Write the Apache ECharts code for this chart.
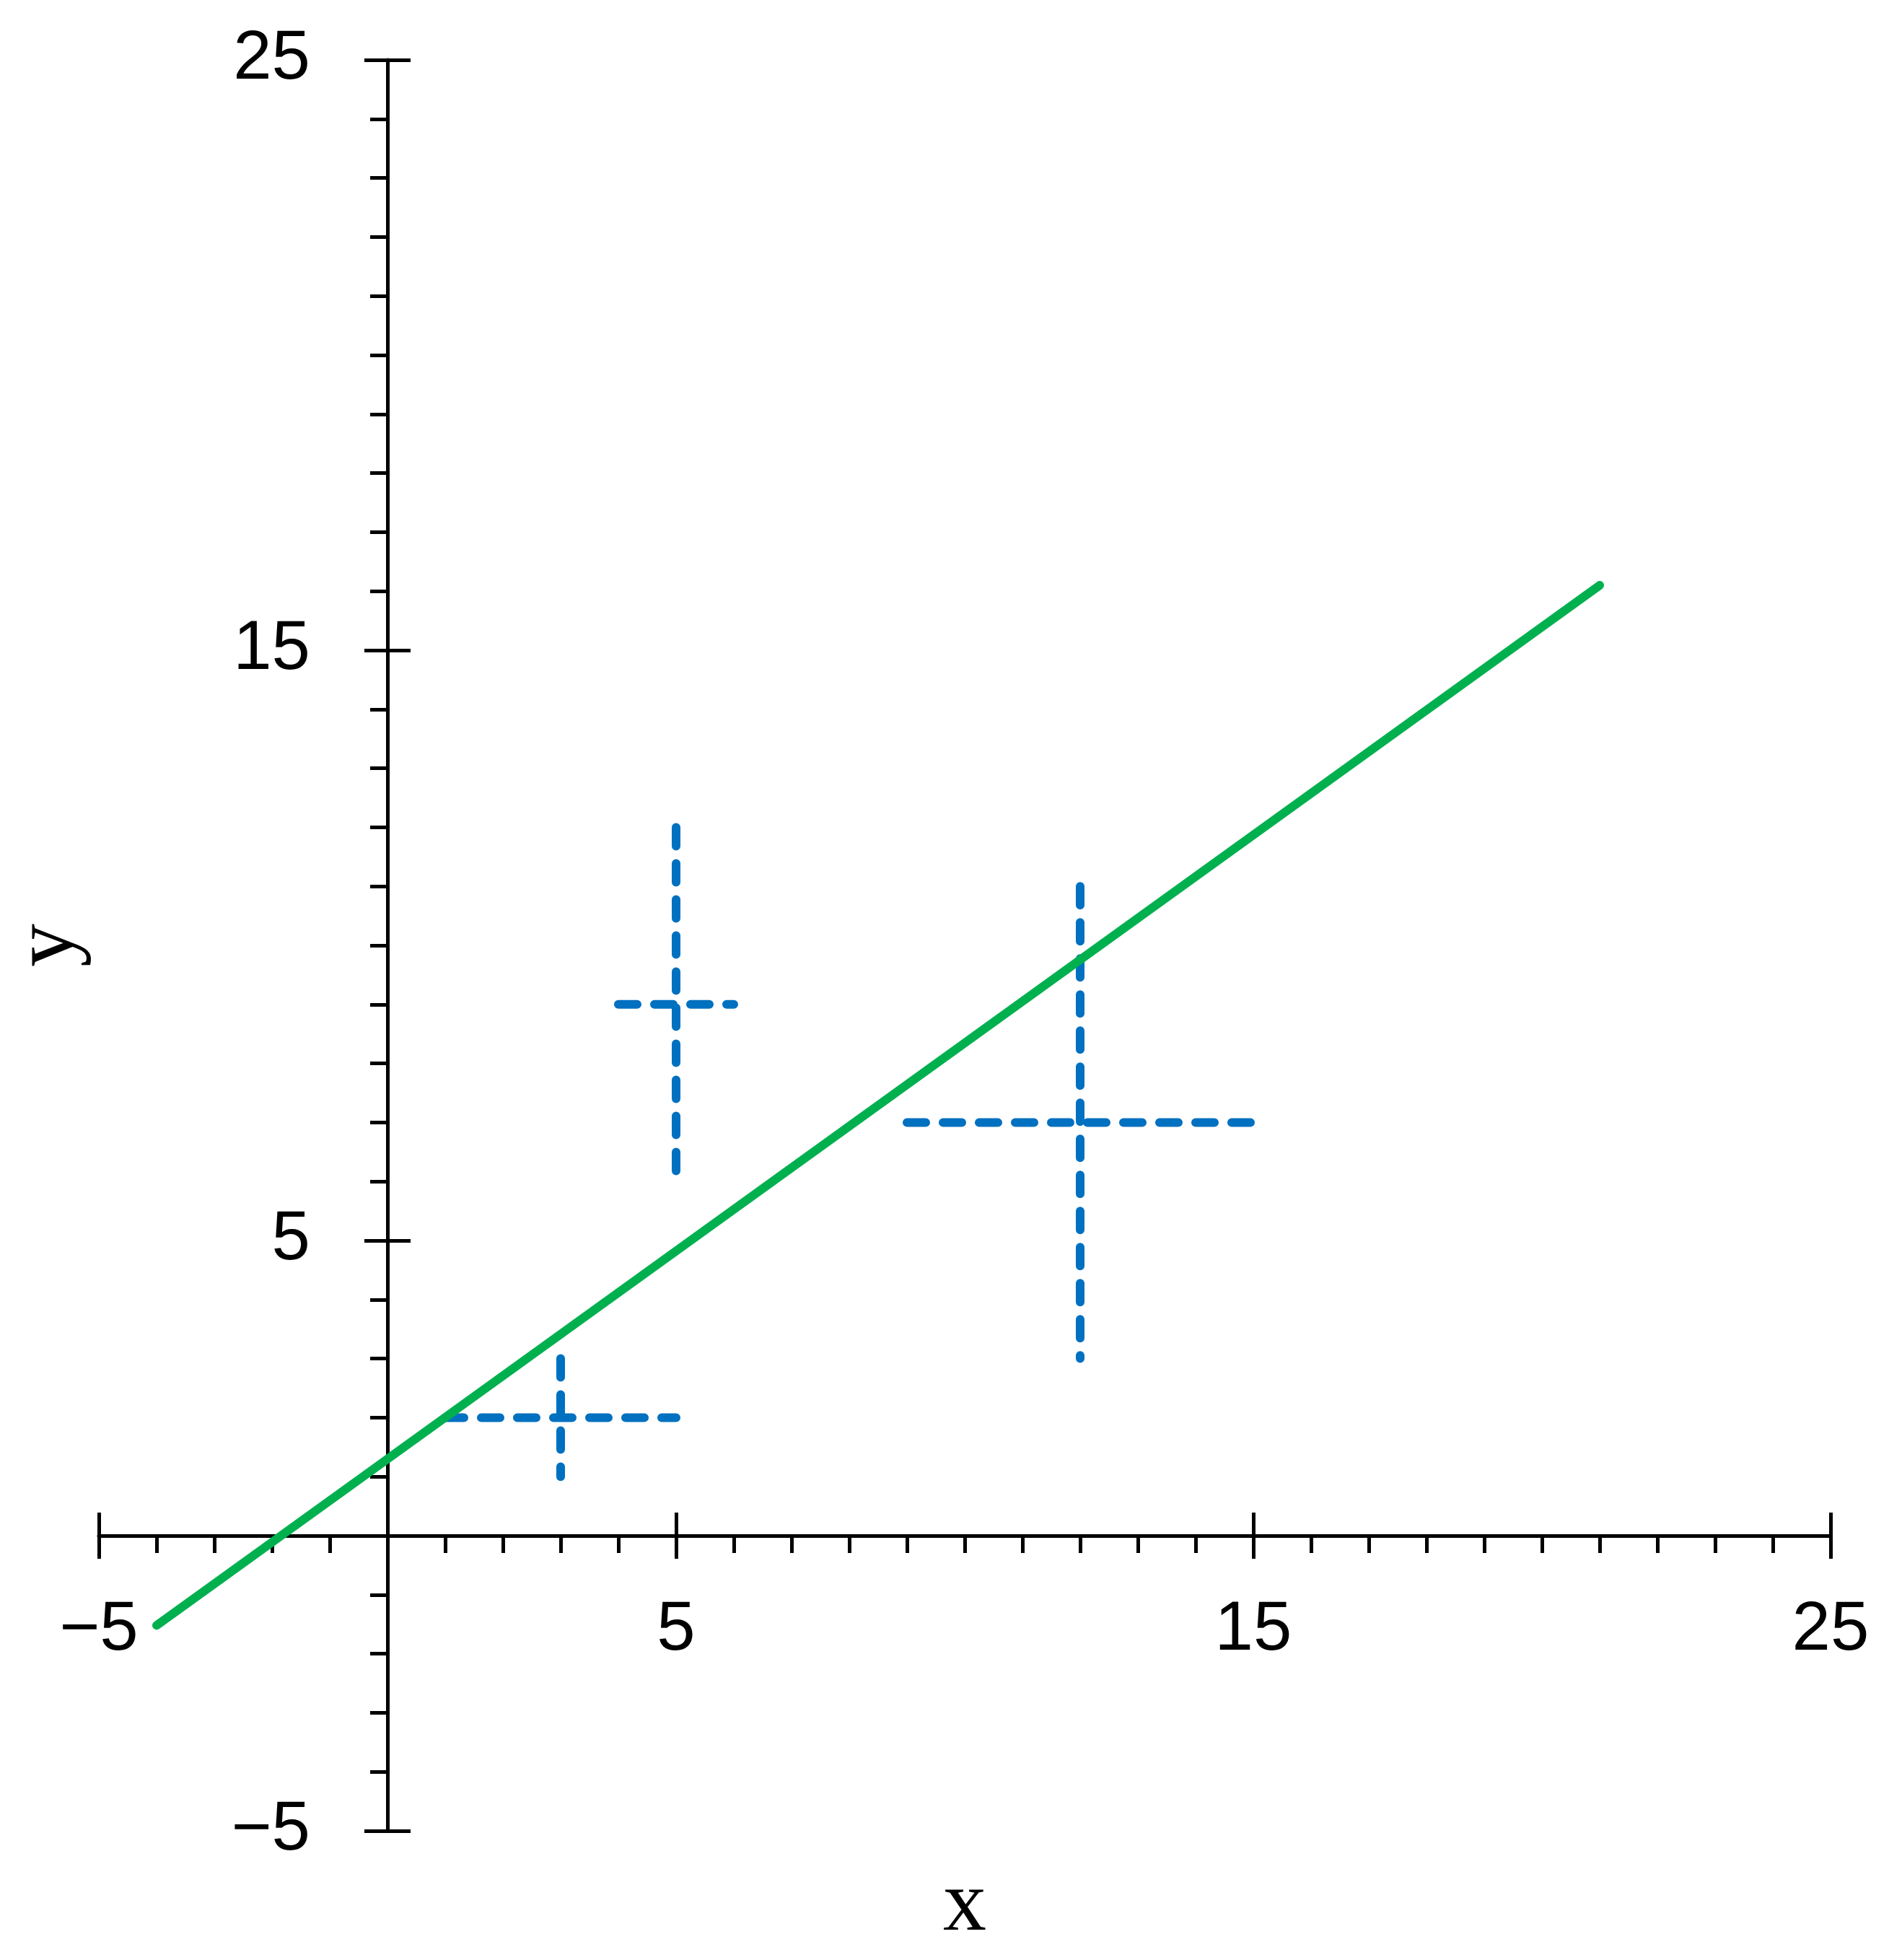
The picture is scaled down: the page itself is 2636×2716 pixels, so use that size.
<!DOCTYPE html>
<html><head><meta charset="utf-8">
<script src="https://cdn.jsdelivr.net/npm/echarts@6/dist/echarts.min.js"></script>
<style>html,body{margin:0;padding:0;background:#fff}#c{width:2636px;height:2716px}</style>
</head><body><div id="c"></div>
<script>
// ---- data ----
const majorTicks = [-5, 5, 15, 25];
const pointX = [3, 5, 12];
const pointY = [2, 9, 7];
const errX = [2, 1, 3];
const errY = [1, 3, 4];
const fitX = [-4, 21];
const fitY = [-1.52, 16.1];

const AX_MIN = -5, AX_MAX = 25;
const fmt = v => majorTicks.includes(v) ? (v < 0 ? '\u2212' + (-v) : String(v)) : '';

// layout
const G = { left: 137, right: 99, top: 83, bottom: 179 };
const W = 2636, H = 2716;
const gw = W - G.left - G.right, gh = H - G.top - G.bottom;
// offsets that bring the axes to the zero of the other axis
const zeroX = gw * (0 - AX_MIN) / (AX_MAX - AX_MIN);       // from left edge
const zeroY = gh * (AX_MAX - 0) / (AX_MAX - AX_MIN);       // from top edge
const offs = {
  bottom: -(gh - zeroY), top: -zeroY,
  left: -zeroX, right: -(gw - zeroX)
};

const labelStyle = { fontFamily: 'Liberation Sans', fontSize: 96, color: '#000' };
const lineBlack = { color: '#000', width: 5 };

function mainAxis(dim) {
  const isX = dim === 'x';
  const pos = isX ? 'bottom' : 'left';
  return {
    type: 'value', min: AX_MIN, max: AX_MAX, interval: 1,
    position: pos, offset: offs[pos],
    name: isX ? 'x' : 'y',
    nameLocation: 'middle',
    nameGap: isX ? 454 : 409,
    nameRotate: isX ? 0 : 90,
    nameTextStyle: { fontFamily: 'Liberation Serif', fontSize: 120, color: '#000' },
    axisLine: { show: true, onZero: false, lineStyle: lineBlack },
    axisTick: { show: true, length: 24, lineStyle: lineBlack },
    minorTick: { show: false },
    splitLine: { show: false },
    axisLabel: Object.assign({ show: true, margin: isX ? 84 : 107, customValues: majorTicks, formatter: fmt, hideOverlap: false }, labelStyle)
  };
}
function tickAxis(pos) {
  return {
    type: 'value', min: AX_MIN, max: AX_MAX, interval: 1,
    position: pos, offset: offs[pos],
    axisLine: { show: false, onZero: false, lineStyle: lineBlack },
    axisTick: { show: true, length: 32, customValues: majorTicks, lineStyle: lineBlack },
    minorTick: { show: false },
    splitLine: { show: false },
    axisLabel: { show: false }
  };
}

const blue = '#0070c0';
const series = [];
for (let i = 0; i < pointX.length; i++) {
  const dashStyle = { color: blue, width: 12, type: [26, 24], cap: 'round' };
  series.push({
    type: 'line', xAxisIndex: 0, yAxisIndex: 0, symbol: 'none', silent: true,
    data: [[pointX[i] - errX[i], pointY[i]], [pointX[i] + errX[i], pointY[i]]],
    lineStyle: dashStyle
  });
  series.push({
    type: 'line', xAxisIndex: 0, yAxisIndex: 0, symbol: 'none', silent: true,
    data: [[pointX[i], pointY[i] + errY[i]], [pointX[i], pointY[i] - errY[i]]],
    lineStyle: dashStyle
  });
}
series.push({
  type: 'line', xAxisIndex: 0, yAxisIndex: 0, symbol: 'none', silent: true,
  data: fitX.map((x, i) => [x, fitY[i]]),
  lineStyle: { color: '#00b04f', width: 12, cap: 'round' }
});

const chart = echarts.init(document.getElementById('c'), null, { renderer: 'canvas' });
chart.setOption({
  animation: false,
  backgroundColor: '#fff',
  grid: { left: G.left, right: G.right, top: G.top, bottom: G.bottom, containLabel: false, outerBoundsMode: 'none' },
  xAxis: [mainAxis('x'), tickAxis('bottom'), tickAxis('top')],
  yAxis: [mainAxis('y'), tickAxis('left'), tickAxis('right')],
  series: series
});
</script>
</body></html>
